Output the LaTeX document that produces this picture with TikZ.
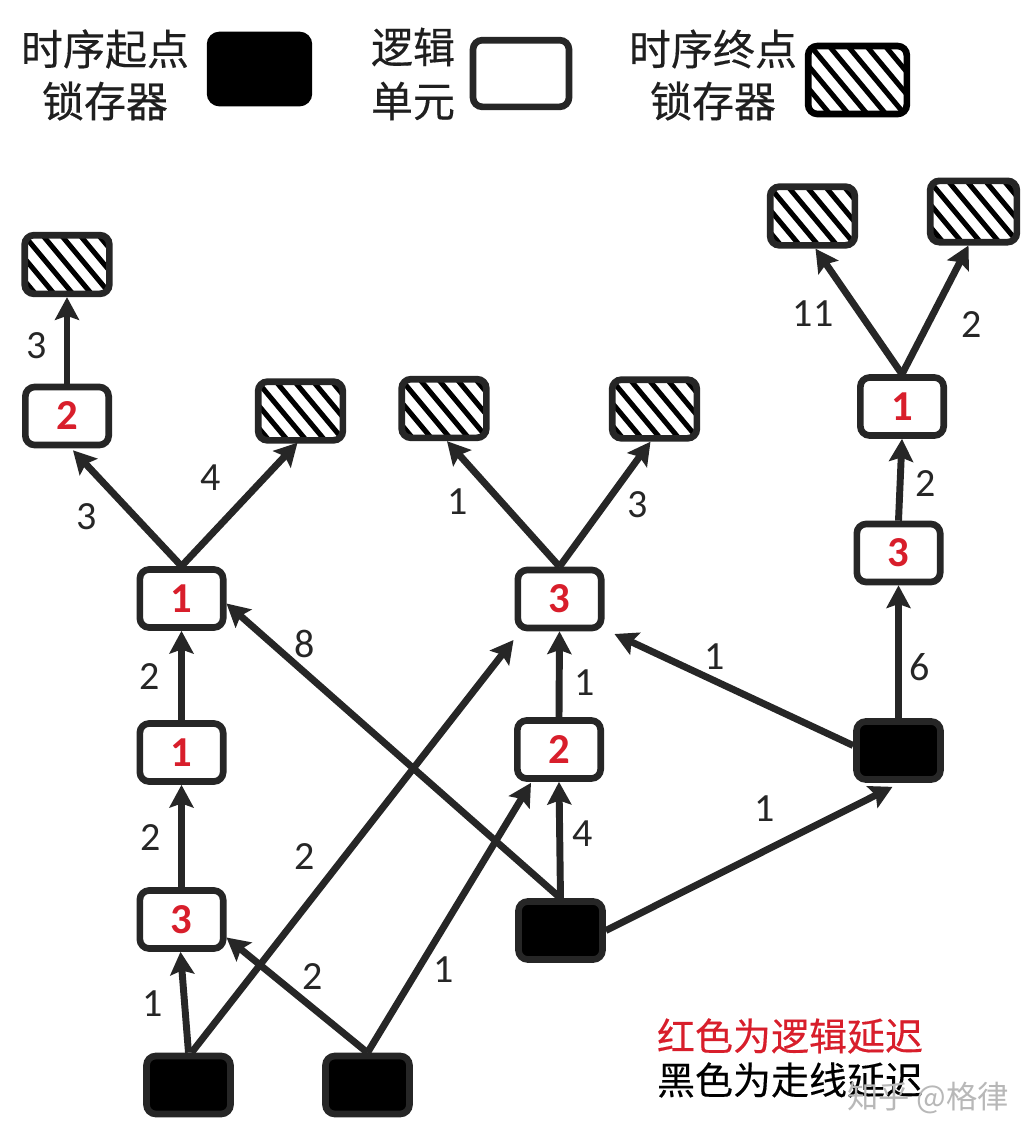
\documentclass[tikz,border=0pt]{standalone}
\usepackage{fontspec}
\setmainfont{Carlito}
\newfontfamily\cjk[FakeBold=0.35]{Noto Sans CJK SC}
\newfontfamily\cjkplain{Noto Sans CJK SC}
\usetikzlibrary{arrows.meta}
\definecolor{bord}{HTML}{262626}
\definecolor{redd}{HTML}{D81E2B}
\tikzset{
  boxbase/.style={rounded corners=7pt,inner sep=0pt,line width=5pt,draw=bord},
  logicbox/.style={boxbase,fill=white,minimum width=62.5pt,minimum height=43.5pt,font=\bfseries\fontsize{32}{34}\selectfont,text=redd},
  srcbox/.style={boxbase,fill=black,minimum width=63pt,minimum height=43.5pt},
  hatchbox/.style={boxbase,fill=white,minimum width=63.5pt,minimum height=44pt,
    path picture={
      \foreach \i in {-9,...,9}{
        \draw[black,line width=3.8pt] ([xshift=\i*14pt]path picture bounding box.center) ++(-60,-72) -- ++(120,144);
      }
    }},
  edge/.style={-{Stealth[length=17pt,width=18pt,inset=3pt]},line width=5.2pt,draw=bord},
  wlabel/.style={inner sep=0pt,font=\fontsize{30}{32}\selectfont,text=black!85},
  zh/.style={inner sep=0pt,font=\cjk\fontsize{31.5}{33}\selectfont,text=black!88},
}
\begin{document}
\begin{tikzpicture}[x=0.75pt,y=-0.75pt]
\useasboundingbox[fill=white] (0,0) rectangle (1035,1140);

% legend
\node[zh] (l1a) at (105,49) {时序起点};
\node[zh] (l1b) at (105,101) {锁存器};
\node[srcbox,draw=black,minimum width=74pt,minimum height=51pt] (k1) at (259.5,69) {};
\node[zh] (l2a) at (413,47) {逻辑};
\node[zh] (l2b) at (413,101) {单元};
\node[logicbox,minimum width=72pt,minimum height=50pt] (k2) at (521,73.5) {};
\node[zh] (l3a) at (713,49) {时序终点};
\node[zh] (l3b) at (713,101) {锁存器};
\node[hatchbox,draw=black,minimum width=74pt,minimum height=51pt] (k3) at (857.5,80) {};

% sinks
\node[hatchbox] (s1) at (67,264.5) {};
\node[hatchbox] (s2) at (300.5,411) {};
\node[hatchbox] (s3) at (444,408.5) {};
\node[hatchbox] (s4) at (654.5,409) {};
\node[hatchbox] (s5) at (812.5,216) {};
\node[hatchbox,minimum width=65pt,minimum height=46pt] (s6) at (973.5,211.5) {};

% logic cells
\node[logicbox] (a2) at (67,416) {2};
\node[logicbox] (b1) at (181.5,598.5) {1};
\node[logicbox] (b2) at (181.5,752.5) {1};
\node[logicbox] (b3) at (181.5,919.5) {3};
\node[logicbox] (c3) at (559.5,599) {3};
\node[logicbox] (c2) at (559,749.5) {2};
\node[logicbox] (d1) at (902,406.5) {1};
\node[logicbox] (d3) at (898.5,553) {3};

% sources
\node[srcbox] (p1) at (188.5,1085) {};
\node[srcbox] (p2) at (367.5,1085) {};
\node[srcbox] (p3) at (560.5,930.5) {};
\node[srcbox] (p4) at (898.5,750.5) {};

% connectors
\draw[edge] (a2.north) -- (s1.south);
\draw[edge] (b1.north) -- ([shift={(6,2)}]a2.south);
\draw[edge] (b1.north) -- ([shift={(-3,-1)}]s2.south);
\draw[edge] (b2.north) -- (b1.south);
\draw[edge] (b3.north) -- (b2.south);
\draw[edge] (p1.north) -- ([shift={(-1,0)}]b3.south);
\draw[edge] (p2.north) -- ([shift={(0,18)}]b3.east);
\draw[edge] (p3.north) -- ([shift={(0,5)}]b1.east);
\draw[edge] ([shift={(3,0)}]p1.north) -- ([shift={(-1,41)}]c3.west);
\draw[edge] (p2.north) -- ([shift={(-28,1)}]c2.south);
\draw[edge] (p3.north) -- (c2.south);
\draw[edge] (c2.north) -- (c3.south);
\draw[edge] ([shift={(0,-5)}]p4.west) -- ([shift={(10,35)}]c3.east);
\draw[edge] (p3.east) -- ([shift={(-6,4)}]p4.south);
\draw[edge] (p4.north) -- (d3.south);
\draw[edge] (d3.north) -- (d1.south);
\draw[edge] (d1.north) -- ([shift={(3,0)}]s5.south);
\draw[edge] (d1.north) -- ([shift={(-5,0)}]s6.south);
\draw[edge] (c3.north) -- ([shift={(3,0)}]s3.south);
\draw[edge] (c3.north) -- ([shift={(-4,0)}]s4.south);

% wire delays
\node[wlabel] (w1) at (37,346) {3};
\node[wlabel] (w2) at (87,517) {3};
\node[wlabel] (w3) at (211,478) {4};
\node[wlabel] (w4) at (150,677) {2};
\node[wlabel] (w5) at (151,838) {2};
\node[wlabel] (w6) at (153,1004) {1};
\node[wlabel] (w7) at (313,977) {2};
\node[wlabel] (w8) at (305,857) {2};
\node[wlabel] (w9) at (305,644) {8};
\node[wlabel] (w10) at (444,970) {1};
\node[wlabel] (w11) at (583,834) {4};
\node[wlabel] (w12) at (585,683) {1};
\node[wlabel] (w13) at (715,657) {1};
\node[wlabel] (w14) at (920,667) {6};
\node[wlabel] (w15) at (765,809) {1};
\node[wlabel] (w16) at (926,484) {2};
\node[wlabel] (w17) at (458,502) {1};
\node[wlabel] (w18) at (638,505) {3};
\node[wlabel] (w19) at (813,314) {11};
\node[wlabel] (w20) at (972,325) {2};

% note
\node[inner sep=0pt,font=\cjk\fontsize{28.5}{30}\selectfont,text=redd] (n1) at (790,1036) {红色为逻辑延迟};
\node[inner sep=0pt,font=\cjk\fontsize{28.5}{30}\selectfont,text=black] (n2) at (790,1080) {黑色为走线延迟};
\node[inner sep=0pt,font=\cjkplain\fontsize{23.5}{25}\selectfont,text=black!28] (wm) at (928,1098) {知乎 @格律};
\end{tikzpicture}
\end{document}
